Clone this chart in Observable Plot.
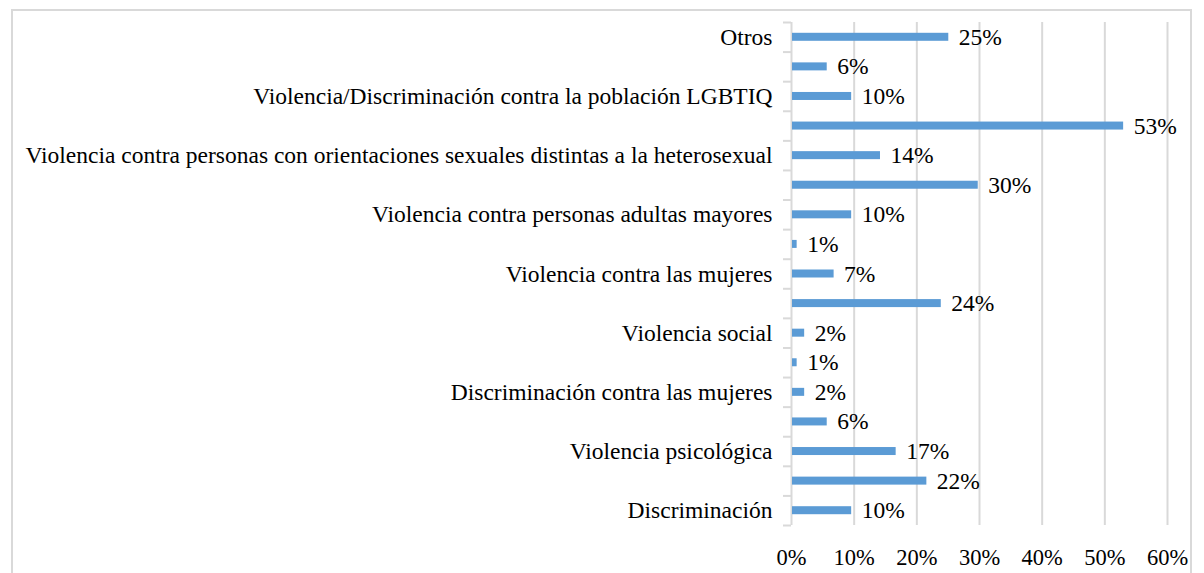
<!DOCTYPE html>
<html>
<head>
<meta charset="utf-8">
<script src="https://cdn.jsdelivr.net/npm/d3@7"></script>
<script src="https://cdn.jsdelivr.net/npm/@observablehq/plot@0.6"></script>
<style>
  html, body { margin: 0; padding: 0; background: #fff; overflow: hidden; }
  #wrap { position: relative; width: 1204px; height: 573px; }
  #frame { position: absolute; left: 11px; top: 9px; width: 1177px; height: 620px;
           border: 2px solid #d9d9d9; border-bottom: none; pointer-events: none; }
  #chart { position: absolute; left: 0; top: 0; }
</style>
</head>
<body>
<div id="wrap"><div id="chart"></div><div id="frame"></div></div>
<script>
// Categories, top to bottom (every other label is hidden in the original chart)
const categories = [
  "Otros",
  "Violencia laboral",
  "Violencia/Discriminación contra la población LGBTIQ",
  "Violencia sexual",
  "Violencia contra personas con orientaciones sexuales distintas a la heterosexual",
  "Violencia física",
  "Violencia contra personas adultas mayores",
  "Violencia económica",
  "Violencia contra las mujeres",
  "Violencia intrafamiliar",
  "Violencia social",
  "Violencia patrimonial",
  "Discriminación contra las mujeres",
  "Violencia institucional",
  "Violencia psicológica",
  "Violencia verbal",
  "Discriminación"
];
// Shares (labels show them rounded)
const values = [0.251, 0.057, 0.096, 0.530, 0.142, 0.298, 0.096, 0.009, 0.068, 0.239, 0.021, 0.009, 0.021, 0.057, 0.167, 0.216, 0.096];
const visibleLabel = categories.map((c, i) => i % 2 === 0);
const xTicks = [0, 0.1, 0.2, 0.3, 0.4, 0.5, 0.6];

const data = categories.map((c, i) => ({cat: c, value: values[i]}));

const H = 573, mTop = 22, mBottom = 48;
const band = (H - mTop - mBottom) / categories.length;
const pct = d3.format(".0%");

const chart = Plot.plot({
  width: 1204,
  height: H,
  marginLeft: 791,
  marginRight: 37,
  marginTop: mTop,
  marginBottom: mBottom,
  style: {fontFamily: "'Liberation Serif', 'Times New Roman', serif", fontSize: "23.5px", color: "#000", background: "transparent"},
  x: {domain: [0, 0.6], ticks: xTicks, tickFormat: pct, tickSize: 0, tickPadding: 24, label: null},
  y: {domain: categories, paddingInner: 0, paddingOuter: 0, round: false, tickSize: 0, tickPadding: 19, label: null,
      tickFormat: (d) => visibleLabel[categories.indexOf(d)] ? d : ""},
  marks: [
    Plot.gridX(xTicks, {stroke: "#d9d9d9", strokeOpacity: 1, strokeWidth: 2}),
    Plot.ruleY(categories, {y: d => d, x1: -0.0128, x2: 0, dy: -band / 2, stroke: "#d9d9d9", strokeWidth: 2, clip: false}),
    Plot.ruleY(categories.slice(-1), {y: d => d, x1: -0.0128, x2: 0, dy: band / 2, stroke: "#d9d9d9", strokeWidth: 2, clip: false}),
    Plot.barX(data, {x1: 0.0016, x2: "value", y: "cat", fill: "#5B9BD5", insetTop: (band - 8) / 2, insetBottom: (band - 8) / 2}),
    Plot.text(data, {x: "value", y: "cat", text: d => pct(d.value), textAnchor: "start", dx: 10, fill: "#000", fontSize: 23.5}),
    Plot.axisX({ticks: xTicks, tickFormat: pct, tickSize: 0, tickPadding: 24, fontSize: 22.5, label: null})
  ]
});
document.getElementById("chart").appendChild(chart);
</script>
</body>
</html>
